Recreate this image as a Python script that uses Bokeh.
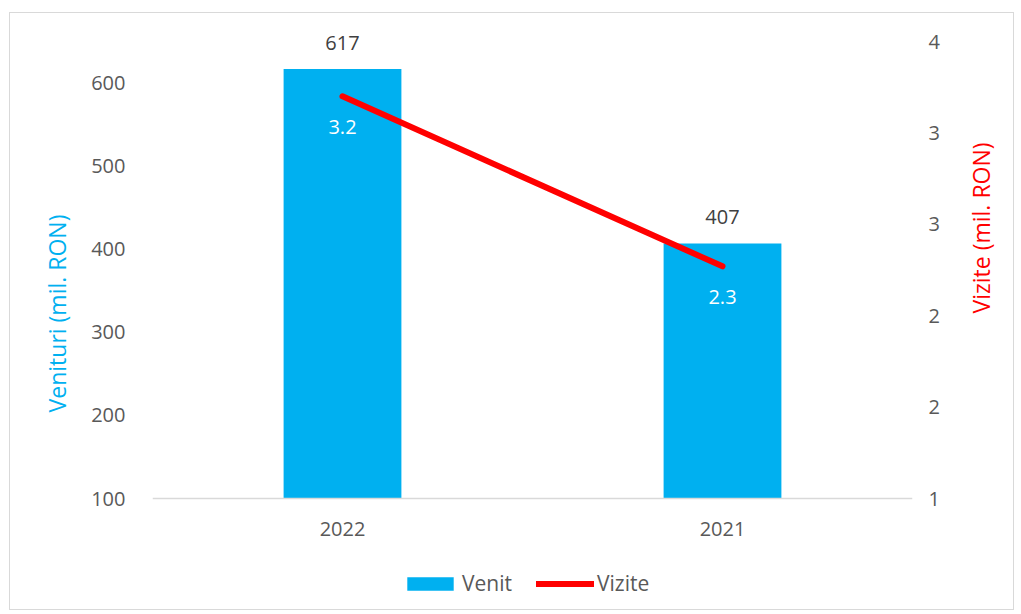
import math
from bokeh.plotting import figure
from bokeh.models import (FactorRange, Range1d, LinearAxis, FixedTicker, ColumnDataSource,
                          LabelSet, Legend, LegendItem, Span)
from bokeh.core.properties import value
from bokeh.embed import file_html
from bokeh.resources import INLINE

years = ["2022", "2021"]
venit = [617, 407]
vizite = [3.2, 2.27]
venit_labels = ["617", "407"]
vizite_labels = ["3.2", "2.3"]
left_ticks = [100, 200, 300, 400, 500, 600]
right_ticks = [1.0, 1.5, 2.0, 2.5, 3.0, 3.5]
right_tick_labels = ["1", "2", "2", "3", "3", "4"]
LEFT_MIN, LEFT_MAX = 100, 650
RIGHT_MIN, RIGHT_MAX = 1.0, 3.5

FONT = "Open Sans"
GREY = "#595959"
BLUE = "#00B0F0"
RED = "#FF0000"

# layout (pixels): the frame holds a top pad, the plot area, then x labels + legend
TOP_PAD = 20
PLOT_H = 457
BOTTOM_PAD = 107
top_f = TOP_PAD / PLOT_H
bot_f = BOTTOM_PAD / PLOT_H
left_start = LEFT_MIN - (LEFT_MAX - LEFT_MIN) * bot_f
left_end = LEFT_MAX + (LEFT_MAX - LEFT_MIN) * top_f
right_start = RIGHT_MIN - (RIGHT_MAX - RIGHT_MIN) * bot_f
right_end = RIGHT_MAX + (RIGHT_MAX - RIGHT_MIN) * top_f

src = ColumnDataSource(dict(year=years, venit=venit, vizite=vizite,
                            vl=venit_labels, zl=vizite_labels,
                            base=[LEFT_MIN] * len(years)))

p = figure(x_range=FactorRange(*years, range_padding=0), y_range=Range1d(left_start, left_end),
           width=1005, height=598, output_backend="svg", toolbar_location=None,
           min_border_left=142, min_border_right=97, min_border_top=28 - TOP_PAD,
           min_border_bottom=6)
p.styles = {"border": "1px solid #D9D9D9", "margin-top": "12px", "margin-left": "9px"}
p.outline_line_color = None
p.xgrid.visible = False
p.ygrid.visible = False
p.xaxis.visible = False

p.extra_y_ranges = {"viz": Range1d(right_start, right_end)}

p.add_layout(Span(location=LEFT_MIN, dimension="width", line_color="#D9D9D9", line_width=1.5))

bars = p.vbar(x="year", top="venit", bottom=LEFT_MIN, width=0.31, source=src,
              fill_color=BLUE, line_color=None)
line = p.line(x="year", y="vizite", source=src, y_range_name="viz",
              line_color=RED, line_width=6, line_cap="round", line_join="round")

ya = p.yaxis[0]
ya.ticker = FixedTicker(ticks=left_ticks)
ya.axis_line_color = None
ya.major_tick_line_color = None
ya.minor_tick_line_color = None
ya.major_tick_out = 0
ya.minor_tick_out = 0
ya.major_label_text_font = FONT
ya.major_label_text_font_size = "20px"
ya.major_label_text_color = GREY
ya.major_label_standoff = 27
ya.axis_label = "Venituri (mil. RON)"
ya.axis_label_text_font = FONT
ya.axis_label_text_font_size = "23px"
ya.axis_label_text_font_style = "normal"
ya.axis_label_text_color = BLUE
ya.axis_label_standoff = 15

ra = LinearAxis(y_range_name="viz", ticker=FixedTicker(ticks=right_ticks),
                major_label_overrides={t: l for t, l in zip(right_ticks, right_tick_labels)})
ra.axis_line_color = None
ra.major_tick_line_color = None
ra.minor_tick_line_color = None
ra.major_tick_out = 0
ra.minor_tick_out = 0
ra.major_label_text_font = FONT
ra.major_label_text_font_size = "20px"
ra.major_label_text_color = GREY
ra.major_label_standoff = 16
ra.axis_label = "Vizite (mil. RON)"
ra.axis_label_text_font = FONT
ra.axis_label_text_font_size = "23px"
ra.axis_label_text_font_style = "normal"
ra.axis_label_text_color = RED
ra.axis_label_standoff = 38
ra.axis_label_orientation = math.pi / 2
p.add_layout(ra, "right")

# category labels under the base line
p.add_layout(LabelSet(x="year", y="base", text="year", source=src, y_offset=-30,
                      text_align="center", text_baseline="middle",
                      text_font=value(FONT), text_font_size="20px", text_color=GREY))

p.add_layout(LabelSet(x="year", y="venit", text="vl", source=src, y_offset=26,
                      text_align="center", text_baseline="middle",
                      text_font=value(FONT), text_font_size="20px", text_color="#404040"))
p.add_layout(LabelSet(x="year", y="vizite", text="zl", source=src, y_range_name="viz",
                      y_offset=-31, text_align="center", text_baseline="middle",
                      text_font=value(FONT), text_font_size="20px", text_color="#FFFFFF"))

legend = Legend(items=[LegendItem(label="Venit", renderers=[bars]),
                       LegendItem(label="Vizite", renderers=[line])],
                orientation="horizontal", location=(249, 8),
                glyph_width=58, glyph_height=17, label_standoff=3, spacing=24,
                padding=0, margin=0, border_line_alpha=0, background_fill_alpha=0,
                label_text_font=FONT, label_text_font_size="21px", label_text_color=GREY)
p.add_layout(legend)

open("out.html", "w").write(file_html(p, INLINE))
